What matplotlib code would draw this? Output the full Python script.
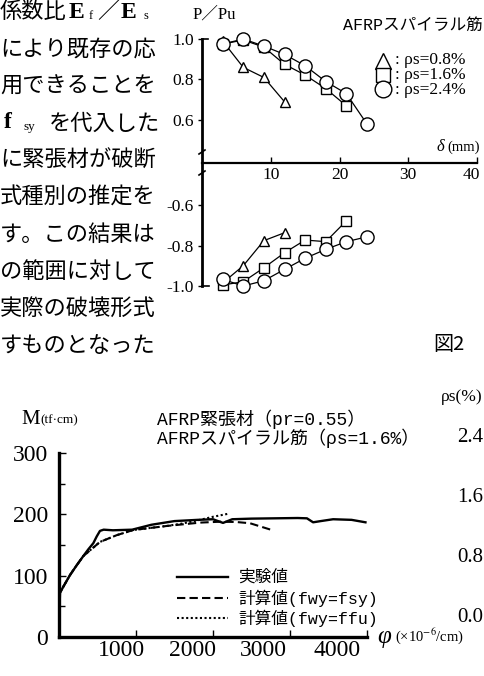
import numpy as np
import matplotlib
matplotlib.use("Agg")
import matplotlib.pyplot as plt
from matplotlib.lines import Line2D
from matplotlib.transforms import ScaledTranslation

plt.rcParams['font.family'] = ['Liberation Serif', 'Noto Sans CJK JP']
plt.rcParams['mathtext.fontset'] = 'stix'

# ---- top chart (P/Pu vs delta) ----
delta = [3, 6, 9, 12, 15, 18, 21, 24]
tri_pos = [0.99, 0.86, 0.81, 0.69]
sq_pos = [0.975, 0.995, 0.96, 0.875, 0.822, 0.755, 0.67]
ci_pos = [0.975, 1.0, 0.965, 0.924, 0.868, 0.79, 0.73, 0.58]
tri_neg = [-0.985, -0.90, -0.776, -0.737]
sq_neg = [-0.995, -0.979, -0.91, -0.836, -0.773, -0.781, -0.678]
ci_neg = [-0.967, -1.0, -0.974, -0.918, -0.863, -0.819, -0.781, -0.757]
top_yticks = [-1.0, -0.8, -0.6, 0.6, 0.8, 1.0]
top_ylabels = ['-1.0', '-0.8', '-0.6', '0.6', '0.8', '1.0']
legend_top = ['ρs=0.8%', 'ρs=1.6%', 'ρs=2.4%']

# ---- bottom chart (M vs phi) ----
phi_exp = [0, 5, 13, 56, 143, 230, 316, 381, 446, 490, 532, 580, 700, 950, 1200,
           1500, 1800, 2000, 2130, 2250, 2500, 2800, 3100, 3220, 3300, 3400, 3560, 3800, 3980]
m_exp = [0, 40, 72, 82, 101, 117, 132, 143, 153, 164, 173, 175, 174, 175, 183,
         189, 191, 192, 186, 192, 193, 193.5, 194, 193.5, 187, 189, 192, 191, 187]
phi_fsy = [0, 5, 13, 56, 143, 230, 316, 532, 749, 966, 1200, 1398, 1831, 2100, 2300, 2480, 2762]
m_fsy = [0, 40, 72, 82, 101, 117, 132, 155, 166, 174.5, 178, 181, 186.5, 188, 187.5, 185.5, 174.5]
phi_ffu = [0, 5, 13, 56, 143, 230, 316, 532, 749, 966, 1200, 1398, 1600, 1831, 2000, 2200]
m_ffu = [0, 40, 72, 82, 101, 117, 132, 155, 166, 174.5, 178, 181, 185, 191, 196, 201]
bot_xticks = [1000, 2000, 3000, 4000]
bot_yticks = [0, 100, 200, 300]
legend_bot = ['実験値', '計算値(fwy=fsy)', '計算値(fwy=ffu)']
rho_col = ['2.4', '1.6', '0.8', '0.0']

W, H = 484, 676
def fx(x):
    return x / W
def fy(y):
    return 1 - y / H

CJK = ['Noto Sans CJK JP']
MONO = ['Liberation Mono', 'Noto Sans CJK JP']
SERIF = ['Liberation Serif', 'Noto Sans CJK JP']

fig = plt.figure(figsize=(4.84, 6.76), dpi=100)

# ---- body text column ----
body = [None, 'により既存の応', '用できることを', None, 'に緊張材が破断',
        '式種別の推定を', 'す。この結果は', 'の範囲に対して', '実際の破壊形式', 'すものとなった']
ly = [12 + 37 * i for i in range(10)]
for s, y in zip(body, ly):
    if s:
        fig.text(fx(0), fy(y), s, family=CJK, fontsize=16, va='center', ha='left')
fig.text(fx(0), fy(ly[0]), '係数比', family=CJK, fontsize=16, va='center')
fig.text(fx(69), fy(ly[0]), 'E', family=SERIF, fontsize=17, weight='bold', va='center')
fig.text(fx(89), fy(ly[0] + 4), 'f', family=SERIF, fontsize=9, va='center')
fig.text(fx(97), fy(ly[0]), '／', family=CJK, fontsize=16, va='center')
fig.text(fx(121), fy(ly[0]), 'E', family=SERIF, fontsize=17, weight='bold', va='center')
fig.text(fx(143), fy(ly[0] + 4), 's', family=SERIF, fontsize=9, va='center')
fig.text(fx(4), fy(ly[3]), 'f', family=SERIF, fontsize=17, weight='bold', va='center')
fig.text(fx(24), fy(ly[3] + 4), 'sy', family=SERIF, fontsize=9.5, va='center')
fig.text(fx(49), fy(ly[3]), 'を代入した', family=CJK, fontsize=16, va='center')
fig.text(fx(433), fy(ly[9]), '図2', family=CJK, fontsize=14.5, va='center')

# ---- top chart ----
GAP = 0.39
def fwd(v):
    v = np.asarray(v, dtype=float)
    return np.where(v > GAP, v - GAP, np.where(v < -GAP, v + GAP, 0.0))
def inv(y):
    y = np.asarray(y, dtype=float)
    return np.where(y >= 0, y + GAP, y - GAP)

ax1 = fig.add_axes([fx(202), fy(286), (477 - 202) / W, (286 - 39) / H])
ax1.set_yscale('function', functions=(fwd, inv))
ax1.set_xlim(0, 40)
ax1.set_ylim(-1.0, 1.0)
for s in ['top', 'right']:
    ax1.spines[s].set_visible(False)
ax1.spines['bottom'].set_position(('axes', 0.5))
ax1.spines['bottom'].set_linewidth(1.6)
ax1.spines['left'].set_linewidth(2.0)
ax1.set_xticks([10, 20, 30, 40])
ax1.set_xticklabels(['10', '20', '30', '40'])
ax1.tick_params(axis='x', direction='in', length=4, width=1, pad=3, labelsize=12.5)
# keep the last label inside the picture
last = ax1.get_xticklabels()[-1]
last.set_transform(last.get_transform() + ScaledTranslation(-0.06, 0, fig.dpi_scale_trans))
ax1.set_yticks(top_yticks)
ax1.set_yticklabels(top_ylabels)
ax1.yaxis.set_minor_locator(matplotlib.ticker.NullLocator())
ax1.tick_params(axis='y', direction='out', length=3, width=1, pad=3, labelsize=12.5)
ax1.patch.set_alpha(0)

mk = dict(color='black', lw=0.9, mfc='white', mec='black', mew=1.0, clip_on=False)
ax1.plot(delta[:4], tri_pos, marker='^', ms=7, **mk)
ax1.plot(delta[:7], sq_pos, marker='s', ms=7, **mk)
ax1.plot(delta, ci_pos, marker='o', ms=9.5, **mk)
ax1.plot(delta[:4], tri_neg, marker='^', ms=7, **mk)
ax1.plot(delta[:7], sq_neg, marker='s', ms=7, **mk)
ax1.plot(delta, ci_neg, marker='o', ms=9.5, **mk)

# axis-end serifs and break marks
for (x0, y0, x1, y1) in [(202, 39, 208, 39), (202, 286, 209, 286),
                         (199, 154, 205, 150), (199, 175, 205, 171)]:
    fig.add_artist(Line2D([fx(x0), fx(x1)], [fy(y0), fy(y1)], color='black', lw=1.2))

fig.text(fx(193), fy(15), 'P／Pu', family=SERIF, fontsize=12, va='center')
fig.text(fx(483), fy(25), 'AFRPスパイラル筋', family=MONO, fontsize=12, va='center', ha='right')
fig.text(fx(437), fy(147), 'δ', family=SERIF, fontsize=12, va='center', style='italic')
fig.text(fx(447), fy(147), '(mm)', family=SERIF, fontsize=10.5, va='center')
for m, ms, y in zip(['^', 's', 'o'], [11, 10, 12], [61, 75, 89]):
    fig.add_artist(Line2D([fx(383)], [fy(y)], marker=m, ms=ms, mfc='white',
                          mec='black', mew=1.0, ls='none'))
fig.text(fx(395), fy(75), '\n'.join(': ' + s for s in legend_top), family=SERIF,
         fontsize=12.5, va='center', linespacing=0.95)

# ---- bottom chart ----
ax2 = fig.add_axes([fx(59), fy(637), (367 - 59) / W, (637 - 453) / H])
ax2.set_xlim(0, 4000)
ax2.set_ylim(0, 300)
for s in ['top', 'right']:
    ax2.spines[s].set_visible(False)
for s in ['left', 'bottom']:
    ax2.spines[s].set_linewidth(2.4)
ax2.set_xticks(bot_xticks)
ax2.set_xticklabels([str(v) for v in bot_xticks])
ax2.tick_params(axis='x', direction='in', length=5, width=1, pad=2, labelsize=17)
for lab, dx in zip(ax2.get_xticklabels(), [-15, -21, -27, -30]):
    lab.set_transform(lab.get_transform() + ScaledTranslation(dx / 100, 0, fig.dpi_scale_trans))
ax2.set_yticks(bot_yticks)
ax2.set_yticklabels([str(v) for v in bot_yticks])
ax2.set_yticks([50, 150, 250], minor=True)
ax2.tick_params(axis='y', which='major', direction='in', length=5, width=1, pad=8, labelsize=17)
ax2.tick_params(axis='y', which='minor', direction='in', length=4, width=1)
ax2.patch.set_alpha(0)

styles = [dict(ls='-', lw=1.7), dict(ls=(0, (4, 2)), lw=1.5), dict(ls=(0, (1, 1.2)), lw=1.5)]
ax2.plot(phi_ffu, m_ffu, color='black', **styles[2])
ax2.plot(phi_fsy, m_fsy, color='black', **styles[1])
ax2.plot(phi_exp, m_exp, color='black', **styles[0])

for st, lab, y in zip(styles, legend_bot, [577, 598, 618]):
    fig.add_artist(Line2D([fx(177), fx(228)], [fy(y), fy(y)], color='black', **st))
    fig.text(fx(238), fy(y), lab, family=MONO, fontsize=12, va='center')

fig.text(fx(21), fy(419), 'M', family=SERIF, fontsize=15, va='center')
fig.text(fx(40), fy(420), '(tf·cm)', family=SERIF, fontsize=9.5, va='center')
fig.text(fx(157), fy(419), 'AFRP緊張材（pr=0.55）', family=MONO, fontsize=13, va='center')
fig.text(fx(157), fy(438), 'AFRPスパイラル筋（ρs=1.6%）', family=MONO, fontsize=13, va='center')
fig.text(fx(377), fy(637), 'φ', family=SERIF, fontsize=18, style='italic', va='center')
fig.text(fx(395), fy(636), r'(×10$^{-6}$/cm)', family=SERIF, fontsize=10.5, va='center')
fig.text(fx(483), fy(397), 'ρs(%)', family=SERIF, fontsize=12.5, va='center', ha='right')
for v, y in zip(rho_col, [437, 497, 557, 617]):
    fig.text(fx(470), fy(y), v, family=SERIF, fontsize=15, va='center', ha='center')

fig.savefig('out.png', dpi=100)
